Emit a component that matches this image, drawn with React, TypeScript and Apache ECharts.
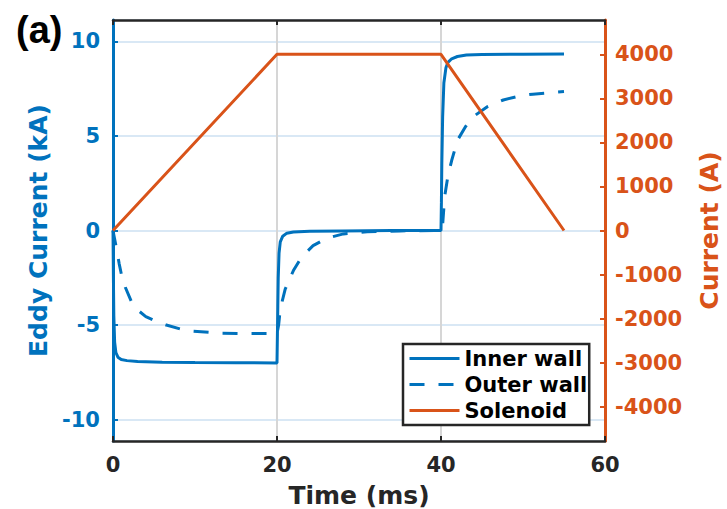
import React, { useEffect, useRef } from "react";
import * as echarts from "echarts";

// Time (ms) / value pairs
const innerWall: [number, number][] = [
  [0, 0], [0.05, -2.5], [0.1, -4.5], [0.2, -5.9], [0.35, -6.45], [0.6, -6.7], [1, -6.82],
  [1.7, -6.88], [3, -6.93], [6, -6.96], [10, -6.98], [15, -6.99], [20, -7.0],
  [20.05, -5.5], [20.1, -4.0], [20.15, -2.5], [20.25, -1.2], [20.4, -0.6], [20.7, -0.3],
  [21.2, -0.14], [22, -0.08], [24, -0.04], [28, -0.02], [34, 0], [40, 0],
  [40.05, 1.5], [40.1, 3.5], [40.2, 6.0], [40.35, 7.8], [40.6, 8.6], [40.85, 8.89],
  [41.3, 9.08], [42, 9.2], [43.1, 9.28], [45, 9.3], [50, 9.32], [55, 9.33],
];

const outerWall: [number, number][] = [
  [0, 0], [0.2, -0.45], [0.45, -1.0], [0.75, -1.75], [1.06, -2.39], [1.5, -3.0],
  [2.28, -3.8], [3, -4.2], [4, -4.55], [5.1, -4.77], [6.5, -5.0], [9, -5.3],
  [13, -5.43], [16, -5.45], [20, -5.45],
  [20.2, -5.0], [20.4, -4.15], [20.6, -3.8], [21, -3.1], [22, -2.12], [23, -1.4],
  [24.4, -0.8], [26, -0.42], [28.1, -0.18], [31, -0.07], [35, -0.02], [40, 0],
  [40.2, 0.3], [40.45, 1.8], [40.85, 2.9], [41.3, 3.7], [41.7, 4.3], [42.1, 4.84],
  [43, 5.5], [44.1, 6.07], [45.6, 6.53], [47.6, 6.9], [49.6, 7.12], [51.2, 7.21],
  [53.7, 7.3], [55, 7.35],
];

const solenoid: [number, number][] = [
  [0, 0], [20, 4000], [40, 4000], [55, 0],
];

const seriesNames = ["Inner wall", "Outer wall", "Solenoid"];

const BLUE = "#0072BD";
const ORANGE = "#D95319";
const DARK = "#262626";
const FONT = "DejaVu Sans";

export default function App() {
  const ref = useRef<HTMLDivElement>(null);
  useEffect(() => {
    if (!ref.current) return;
    const chart = echarts.init(ref.current, undefined, { renderer: "svg" });
    const tickLabel = (color: string, margin: number) => ({
      fontSize: 21,
      fontWeight: "bold" as const,
      fontFamily: FONT,
      color,
      margin,
      showMinLabel: false,
      showMaxLabel: false,
      formatter: (v: number) => String(Math.round(v * 1000) / 1000),
    });
    chart.setOption({
      animation: false,
      textStyle: { fontFamily: FONT },
      grid: { left: 113, right: 122, top: 20, bottom: 68, outerBoundsMode: "none" },
      graphic: [
        {
          type: "text",
          left: 16,
          top: 11,
          style: { text: "(a)", font: "bold 38px 'Liberation Sans'", fill: "#000" },
        },
      ],
      legend: {
        data: seriesNames,
        orient: "vertical",
        left: 403,
        top: 344,
        padding: [4, 2, 4, 5],
        itemGap: 5,
        itemWidth: 50,
        itemHeight: 14,
        itemStyle: { opacity: 0 },
        lineStyle: { width: 3 },
        backgroundColor: "#fff",
        borderColor: DARK,
        borderWidth: 2.5,
        textStyle: { fontSize: 21, fontWeight: "bold", color: "#000", fontFamily: FONT },
      },
      xAxis: [
        {
          type: "value",
          min: 0,
          max: 60,
          interval: 20,
          position: "bottom",
          name: "Time (ms)",
          nameLocation: "middle",
          nameGap: 42,
          nameTextStyle: { fontSize: 25, fontWeight: "bold", color: DARK, fontFamily: FONT },
          axisLine: { show: true, onZero: false, lineStyle: { color: DARK, width: 2.5 } },
          axisTick: { show: true, inside: true, length: 5, lineStyle: { color: DARK, width: 2 } },
          axisLabel: { ...tickLabel(DARK, 13), showMinLabel: true, showMaxLabel: true },
          splitLine: { show: true, lineStyle: { color: "#d6d6d6", width: 2 } },
        },
        {
          type: "value",
          min: 0,
          max: 60,
          interval: 20,
          position: "top",
          axisLine: { show: true, onZero: false, lineStyle: { color: DARK, width: 2.5 } },
          axisTick: { show: true, inside: true, length: 5, lineStyle: { color: DARK, width: 2 } },
          axisLabel: { show: false },
          splitLine: { show: false },
        },
      ],
      yAxis: [
        {
          type: "value",
          min: -11.13,
          max: 11.13,
          splitNumber: 5,
          position: "left",
          name: "Eddy Current (kA)",
          nameLocation: "middle",
          nameGap: 55,
          nameTextStyle: { fontSize: 25, fontWeight: "bold", color: BLUE, fontFamily: FONT },
          axisLine: { show: true, onZero: false, lineStyle: { color: BLUE, width: 3 } },
          axisTick: { show: true, inside: true, length: 5, lineStyle: { color: BLUE, width: 2 } },
          axisLabel: tickLabel(BLUE, 13),
          splitLine: { show: true, lineStyle: { color: "#d9e8f5", width: 2 } },
        },
        {
          type: "value",
          min: -4780,
          max: 4780,
          splitNumber: 10,
          position: "right",
          name: "Current (A)",
          nameLocation: "middle",
          nameGap: 92,
          nameRotate: 90,
          nameTextStyle: { fontSize: 25, fontWeight: "bold", color: ORANGE, fontFamily: FONT },
          axisLine: { show: true, onZero: false, lineStyle: { color: ORANGE, width: 3 } },
          axisTick: { show: true, inside: true, length: 5, lineStyle: { color: ORANGE, width: 2 } },
          axisLabel: tickLabel(ORANGE, 10),
          splitLine: { show: false },
        },
      ],
      series: [
        {
          name: seriesNames[0],
          type: "line",
          data: innerWall,
          xAxisIndex: 0,
          yAxisIndex: 0,
          symbol: "none",
          showSymbol: false,
          itemStyle: { color: BLUE },
          lineStyle: { color: BLUE, width: 3 },
        },
        {
          name: seriesNames[1],
          type: "line",
          data: outerWall,
          xAxisIndex: 0,
          yAxisIndex: 0,
          symbol: "none",
          showSymbol: false,
          itemStyle: { color: BLUE },
          lineStyle: { color: BLUE, width: 3, type: [15, 14], cap: "butt" },
        },
        {
          name: seriesNames[2],
          type: "line",
          data: solenoid,
          xAxisIndex: 0,
          yAxisIndex: 1,
          symbol: "none",
          showSymbol: false,
          itemStyle: { color: ORANGE },
          lineStyle: { color: ORANGE, width: 3 },
        },
      ],
    });
    return () => chart.dispose();
  }, []);
  return (
    <div
      ref={ref}
      style={{ position: "fixed", left: 0, top: 0, width: 727, height: 509, background: "#fff" }}
    />
  );
}
